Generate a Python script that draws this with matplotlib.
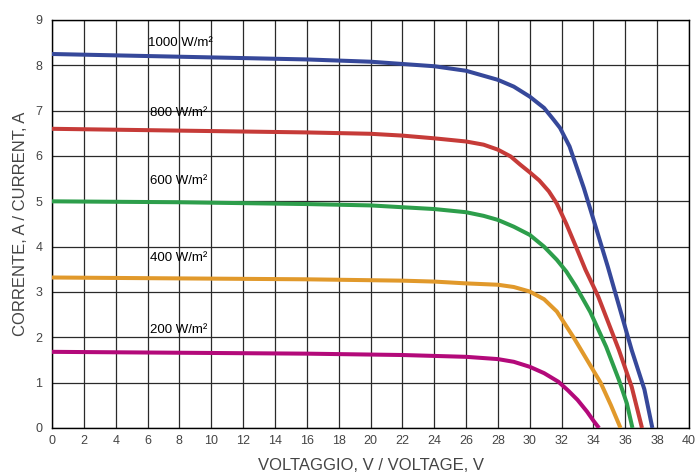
import matplotlib
matplotlib.use("Agg")
import matplotlib.pyplot as plt
import numpy as np

# I-V curves (voltage in V, current in A)
v_1000 = [0, 4, 8, 12, 16, 20, 22, 24, 26, 28, 29, 30, 30.9, 31.5, 31.9, 32.5, 33, 33.4, 34, 34.9, 36.4, 37.2, 37.7]
i_1000 = [8.25, 8.22, 8.19, 8.16, 8.13, 8.08, 8.03, 7.98, 7.88, 7.68, 7.53, 7.31, 7.06, 6.8, 6.62, 6.21, 5.70, 5.29, 4.6, 3.56, 1.72, 0.85, 0]

v_800 = [0, 4, 8, 12, 16, 20, 22, 24, 26, 27.1, 28, 28.8, 29.4, 30, 30.6, 31.2, 31.7, 32.3, 32.9, 33.5, 34.3, 35.6, 36.4, 37.05]
i_800 = [6.6, 6.58, 6.56, 6.54, 6.52, 6.49, 6.45, 6.39, 6.32, 6.25, 6.14, 5.99, 5.81, 5.64, 5.46, 5.22, 4.95, 4.5, 4.0, 3.49, 2.9, 1.72, 0.91, 0]

v_600 = [0, 4, 8, 12, 16, 20, 22, 24, 26, 27.1, 28, 29, 30, 30.9, 31.7, 32.3, 32.9, 33.8, 34.8, 35.6, 36.1, 36.45]
i_600 = [5.0, 4.99, 4.98, 4.96, 4.94, 4.91, 4.87, 4.83, 4.76, 4.68, 4.59, 4.44, 4.26, 4.0, 3.71, 3.45, 3.12, 2.56, 1.79, 1.06, 0.54, 0]

v_400 = [0, 4, 8, 12, 16, 20, 22, 24, 26, 28, 29, 30, 30.9, 31.7, 32.2, 32.75, 33.6, 34.45, 35.1, 35.7]
i_400 = [3.32, 3.31, 3.30, 3.29, 3.28, 3.26, 3.25, 3.23, 3.19, 3.16, 3.11, 3.01, 2.84, 2.57, 2.3, 2.0, 1.5, 1.0, 0.5, 0]

v_200 = [0, 4, 8, 12, 16, 20, 22, 26, 28, 29, 30, 30.9, 31.8, 32.4, 33, 33.6, 34.0, 34.35]
i_200 = [1.68, 1.67, 1.66, 1.65, 1.64, 1.62, 1.61, 1.57, 1.52, 1.46, 1.35, 1.21, 1.02, 0.83, 0.62, 0.36, 0.16, 0]

labels = ["1000 W/m²", "800 W/m²", "600 W/m²", "400 W/m²", "200 W/m²"]
label_x = [6.0, 6.15, 6.15, 6.15, 6.15]
label_y = [8.49, 6.95, 5.45, 3.76, 2.16]

xticks = list(range(0, 41, 2))
yticks = list(range(0, 10))

colors = ["#36489a", "#c63b38", "#2d9e4b", "#e1992b", "#b3097a"]
curves = [(v_1000, i_1000), (v_800, i_800), (v_600, i_600), (v_400, i_400), (v_200, i_200)]

plt.rcParams['font.family'] = ['Liberation Sans', 'DejaVu Sans']

fig = plt.figure(figsize=(6.97, 4.75), dpi=100)
ax = fig.add_axes([52/697, 1 - 428/475, (689 - 52)/697, (428 - 20)/475])

for (v, c), col in zip(curves, colors):
    ax.plot(v, c, color=col, lw=2.9, solid_capstyle='butt', solid_joinstyle='round', zorder=3)

for t, x, y in zip(labels, label_x, label_y):
    ax.text(x, y, t, fontsize=9.5, ha='left', va='center', color='black', zorder=4)

ax.set_xlim(0, 40)
ax.set_ylim(0, 9)
ax.set_xticks(xticks)
ax.set_yticks(yticks)
ax.grid(True, color='#2a2a2a', lw=0.9)
ax.set_axisbelow(True)
ax.tick_params(length=0, labelsize=9, colors='#444444')
ax.tick_params(axis='x', pad=5)
ax.tick_params(axis='y', pad=7)
for s in ax.spines.values():
    s.set_color('black')
    s.set_linewidth(1.0)

ax.set_xlabel("VOLTAGGIO, V / VOLTAGE, V", fontsize=12, color='#444444', labelpad=8)
ax.set_ylabel("CORRENTE, A / CURRENT, A", fontsize=12, color='#444444', labelpad=5)

fig.savefig("out.png", dpi=100)
